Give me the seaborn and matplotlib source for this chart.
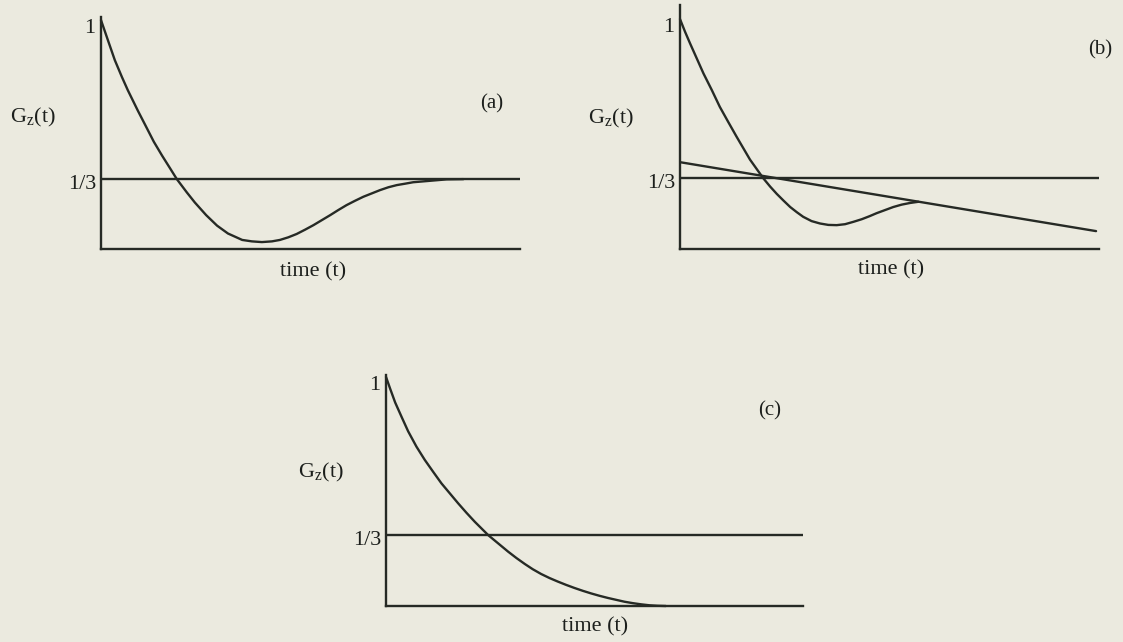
import matplotlib
matplotlib.use("Agg")
import matplotlib.pyplot as plt
import pandas as pd
import seaborn as sns

# Muon spin relaxation functions G_z(t); time in arbitrary units (each axis spans 0-10)
plateau = 1.0 / 3.0

# (a) static Gaussian relaxation: dip below 1/3, recovery to the 1/3 tail
t_a = [0.00, 0.19, 0.33, 0.50, 0.64, 0.88, 1.05, 1.26, 1.46, 1.65, 1.81, 2.05,
       2.24, 2.51, 2.77, 3.03, 3.37, 3.60, 3.84, 4.08, 4.27, 4.47, 4.67, 4.87,
       5.07, 5.27, 5.47, 5.66, 5.86, 6.06, 6.26, 6.46, 6.66, 6.86, 7.06, 7.26,
       7.45, 7.85, 8.25, 8.65]
g_a = [1.000, 0.903, 0.832, 0.761, 0.706, 0.620, 0.562, 0.490, 0.431, 0.378, 0.333, 0.277,
       0.235, 0.182, 0.138, 0.105, 0.078, 0.072, 0.069, 0.072, 0.078, 0.089, 0.103, 0.121,
       0.140, 0.161, 0.182, 0.203, 0.224, 0.242, 0.259, 0.273, 0.287, 0.299, 0.308, 0.314,
       0.320, 0.326, 0.332, 0.333]

# (b) slow fluctuations: fast curve joining a slowly decaying tail
t_b = [0.00, 0.12, 0.24, 0.40, 0.56, 0.76, 0.95, 1.15, 1.35, 1.67, 1.99, 2.15,
       2.31, 2.47, 2.63, 2.79, 2.94, 3.14, 3.34, 3.54, 3.74, 3.94, 4.14, 4.34,
       4.53, 4.69, 4.89, 5.09, 5.29, 5.49, 5.69]
g_b = [1.000, 0.947, 0.898, 0.835, 0.772, 0.702, 0.632, 0.569, 0.507, 0.411, 0.332, 0.298,
       0.267, 0.239, 0.212, 0.190, 0.171, 0.153, 0.143, 0.137, 0.136, 0.140, 0.150, 0.161,
       0.174, 0.186, 0.199, 0.212, 0.222, 0.229, 0.234]
t_tail = [0.00, 9.93]
g_tail = [0.400, 0.111]

# (c) fast fluctuations: monotonic decay
t_c = [0.00, 0.10, 0.22, 0.38, 0.53, 0.73, 0.93, 1.13, 1.33, 1.53, 1.73, 1.93,
       2.13, 2.45, 2.69, 2.93, 3.13, 3.33, 3.52, 3.72, 3.92, 4.12, 4.32, 4.52,
       4.72, 4.92, 5.12, 5.32, 5.52, 5.72, 5.92, 6.12, 6.32, 6.51, 6.71]
g_c = [1.000, 0.950, 0.892, 0.829, 0.771, 0.706, 0.650, 0.600, 0.551, 0.509, 0.467, 0.427,
       0.389, 0.333, 0.298, 0.263, 0.236, 0.211, 0.189, 0.169, 0.152, 0.137, 0.123, 0.110,
       0.098, 0.087, 0.077, 0.068, 0.060, 0.052, 0.046, 0.041, 0.037, 0.035, 0.034]

panel_tags = ["(a)", "(b)", "(c)"]
y_labels = ["1", "1/3"]
x_title = "time (t)"
y_title = r"$\mathregular{G_z(t)}$"

BG = "#ebeadf"
INK = "#262a25"
TXT = "#1c1f1c"
LW = 1.7

sns.set_theme(style="white", rc={"figure.facecolor": BG, "axes.facecolor": "none"})
plt.rcParams["font.family"] = ["Liberation Serif", "DejaVu Serif"]
plt.rcParams["mathtext.fontset"] = "custom"
plt.rcParams["mathtext.rm"] = "Liberation Serif"
plt.rcParams["lines.solid_joinstyle"] = "round"
plt.rcParams["lines.solid_capstyle"] = "round"

W, H = 1123, 642
fig = plt.figure(figsize=(W / 100, H / 100), dpi=100)


def px_axes(x0, x1, ytop, ybot):
    return fig.add_axes([x0 / W, 1 - ybot / H, (x1 - x0) / W, (ybot - ytop) / H])


panels = [
    dict(box=(101, 520, 17, 249), ylim=(0.040, 1.013),
         ylab=(-0.162, 0.568), xlab=(0.506, -0.099), tag=(0.933, 0.625)),
    dict(box=(680, 1099, 5, 249), ylim=(0.036, 1.059),
         ylab=(-0.165, 0.535), xlab=(0.504, -0.086), tag=(1.002, 0.816)),
    dict(box=(386, 803, 375, 606), ylim=(0.034, 1.008),
         ylab=(-0.156, 0.580), xlab=(0.501, -0.091), tag=(0.921, 0.844)),
]
curves = [(t_a, g_a), (t_b, g_b), (t_c, g_c)]

for i, (p, (tt, gg)) in enumerate(zip(panels, curves)):
    ax = px_axes(*p["box"])
    ax.set_xlim(0, 10)
    ax.set_ylim(*p["ylim"])

    df = pd.DataFrame({"t": tt, "G": gg})
    sns.lineplot(data=df, x="t", y="G", ax=ax, color=INK, lw=LW,
                 estimator=None, clip_on=False)
    if i == 1:
        tail = pd.DataFrame({"t": t_tail, "G": g_tail})
        sns.lineplot(data=tail, x="t", y="G", ax=ax, color=INK, lw=LW, estimator=None)
    ax.axhline(plateau, color=INK, lw=LW)

    for side in ("top", "right"):
        ax.spines[side].set_visible(False)
    for side in ("left", "bottom"):
        ax.spines[side].set_color(INK)
        ax.spines[side].set_linewidth(LW)

    ax.set_xticks([])
    ax.set_yticks([])

    # level labels beside the vertical axis
    ax.annotate(y_labels[0], xy=(0, 1.0), xycoords=("axes fraction", "data"),
                xytext=(-3.8, -6.3), textcoords="offset points",
                ha="right", va="center", fontsize=16, color=TXT)
    ax.annotate(y_labels[1], xy=(0, plateau), xycoords=("axes fraction", "data"),
                xytext=(-3.0, -3.8), textcoords="offset points",
                ha="right", va="center", fontsize=16, color=TXT)

    ax.set_xlabel(x_title, fontsize=16, color=TXT)
    ax.xaxis.set_label_coords(*p["xlab"])
    ax.xaxis.label.set_va("center")
    ax.set_ylabel(y_title, fontsize=16, color=TXT, rotation=0)
    ax.yaxis.set_label_coords(*p["ylab"])
    ax.yaxis.label.set_va("center")
    ax.yaxis.label.set_ha("center")

    ax.text(*p["tag"], panel_tags[i], transform=ax.transAxes,
            ha="center", va="center", fontsize=15, color=TXT)

fig.savefig("out.png", dpi=100, facecolor=BG)
